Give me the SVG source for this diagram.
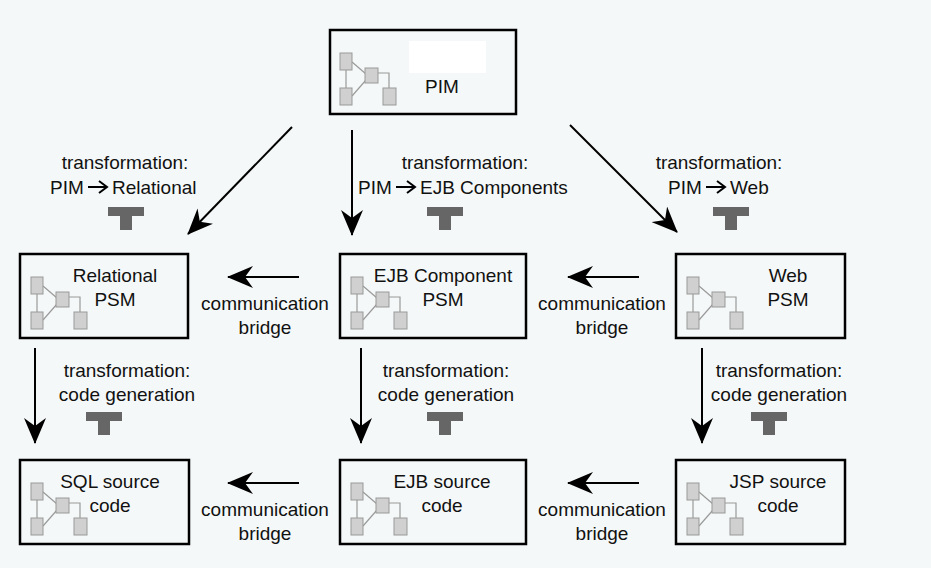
<svg xmlns="http://www.w3.org/2000/svg" width="931" height="568" viewBox="0 0 931 568">
<defs>
<style>
.box{fill:none;stroke:#000;stroke-width:2.5}
.sq{fill:#d0d0d0;stroke:#999;stroke-width:1}
.ln{fill:none;stroke:#999;stroke-width:1.2}
.t{font-family:"Liberation Sans",Arial,sans-serif;font-size:19px;fill:#111;text-anchor:middle}
.s{font-family:"Liberation Sans",Arial,sans-serif;font-size:19px;fill:#111}
.c{stroke:#000;stroke-width:2;fill:none;marker-end:url(#ah)}
.sa{stroke:#000;stroke-width:2;fill:none}
.tee{fill:#666}
</style>
<marker id="ah" viewBox="0 0 26 22" refX="25" refY="11" markerWidth="26" markerHeight="22" markerUnits="userSpaceOnUse" orient="auto">
<path d="M0,0 L26,11 L0,22 L8,11 Z" fill="#000"/>
</marker>
<g id="icon">
<line class="ln" x1="17" y1="30" x2="17" y2="65"/>
<line class="ln" x1="23" y1="32" x2="37" y2="44"/>
<line class="ln" x1="23" y1="66" x2="37" y2="50"/>
<polyline class="ln" points="49,43 60,43 60,58"/>
<rect class="sq" x="11" y="23" width="12" height="17"/>
<rect class="sq" x="11" y="58" width="12" height="17"/>
<rect class="sq" x="36" y="38" width="13" height="15"/>
<rect class="sq" x="54" y="58" width="13" height="17"/>
</g>
<g id="tee"><rect class="tee" x="0" y="0" width="36" height="9"/><rect class="tee" x="12" y="9" width="12" height="14"/></g>
<g id="sarrow"><line class="sa" x1="0" y1="0" x2="19" y2="0"/><polyline class="sa" points="11,-6 19,0 11,6"/></g>
</defs>
<rect width="931" height="568" fill="#f5f8f8"/>
<g id="connectors">
<line class="c" x1="292" y1="127" x2="188" y2="234"/>
<line class="c" x1="352" y1="130" x2="352" y2="235"/>
<line class="c" x1="570" y1="125" x2="677" y2="232"/>
<line class="c" x1="299" y1="277" x2="228" y2="277"/>
<line class="c" x1="639" y1="277" x2="568" y2="277"/>
<line class="c" x1="299" y1="483" x2="228" y2="483"/>
<line class="c" x1="639" y1="483" x2="568" y2="483"/>
<line class="c" x1="35" y1="348" x2="35" y2="443"/>
<line class="c" x1="361" y1="348" x2="361" y2="443"/>
<line class="c" x1="702" y1="348" x2="702" y2="443"/>
</g>
<g id="labels">
<text class="t" x="125" y="169">transformation:</text>
<text class="s" x="50" y="194">PIM</text>
<use href="#sarrow" x="88" y="187"/>
<text class="s" x="112" y="194">Relational</text>
<use href="#tee" x="108" y="207"/>
<text class="t" x="465" y="169">transformation:</text>
<text class="s" x="358" y="194">PIM</text>
<use href="#sarrow" x="396" y="187"/>
<text class="s" x="420" y="194">EJB Components</text>
<use href="#tee" x="427" y="207"/>
<text class="t" x="719" y="169">transformation:</text>
<text class="s" x="668" y="194">PIM</text>
<use href="#sarrow" x="706" y="187"/>
<text class="s" x="730" y="194">Web</text>
<use href="#tee" x="713" y="207"/>
<text class="t" x="265" y="310">communication</text><text class="t" x="265" y="334">bridge</text>
<text class="t" x="602" y="310">communication</text><text class="t" x="602" y="334">bridge</text>
<text class="t" x="265" y="516">communication</text><text class="t" x="265" y="540">bridge</text>
<text class="t" x="602" y="516">communication</text><text class="t" x="602" y="540">bridge</text>
<text class="t" x="127" y="377">transformation:</text><text class="t" x="127" y="401">code generation</text>
<use href="#tee" x="86" y="412"/>
<text class="t" x="446" y="377">transformation:</text><text class="t" x="446" y="401">code generation</text>
<use href="#tee" x="427" y="412"/>
<text class="t" x="779" y="377">transformation:</text><text class="t" x="779" y="401">code generation</text>
<use href="#tee" x="751" y="412"/>
</g>
<g id="pim"><rect class="box" x="330" y="30" width="186" height="84"/><use href="#icon" x="329" y="30"/><rect x="409" y="41" width="77" height="32" fill="#fff"/><text class="t" x="442" y="93">PIM</text></g>
<g id="relational"><rect class="box" x="20" y="254" width="168" height="84"/><use href="#icon" x="20" y="254"/><text class="t" x="115" y="282">Relational</text><text class="t" x="115" y="306">PSM</text></g>
<g id="ejbpsm"><rect class="box" x="340" y="254" width="186" height="84"/><use href="#icon" x="340" y="254"/><text class="t" x="443" y="282">EJB Component</text><text class="t" x="443" y="306">PSM</text></g>
<g id="webpsm"><rect class="box" x="676" y="254" width="169" height="84"/><use href="#icon" x="676" y="254"/><text class="t" x="788" y="282">Web</text><text class="t" x="788" y="306">PSM</text></g>
<g id="sql"><rect class="box" x="20" y="460" width="169" height="84"/><use href="#icon" x="20" y="460"/><text class="t" x="110" y="488">SQL source</text><text class="t" x="110" y="512">code</text></g>
<g id="ejbsrc"><rect class="box" x="340" y="460" width="186" height="84"/><use href="#icon" x="340" y="460"/><text class="t" x="442" y="488">EJB source</text><text class="t" x="442" y="512">code</text></g>
<g id="jsp"><rect class="box" x="676" y="460" width="169" height="84"/><use href="#icon" x="676" y="460"/><text class="t" x="778" y="488">JSP source</text><text class="t" x="778" y="512">code</text></g>
</svg>
